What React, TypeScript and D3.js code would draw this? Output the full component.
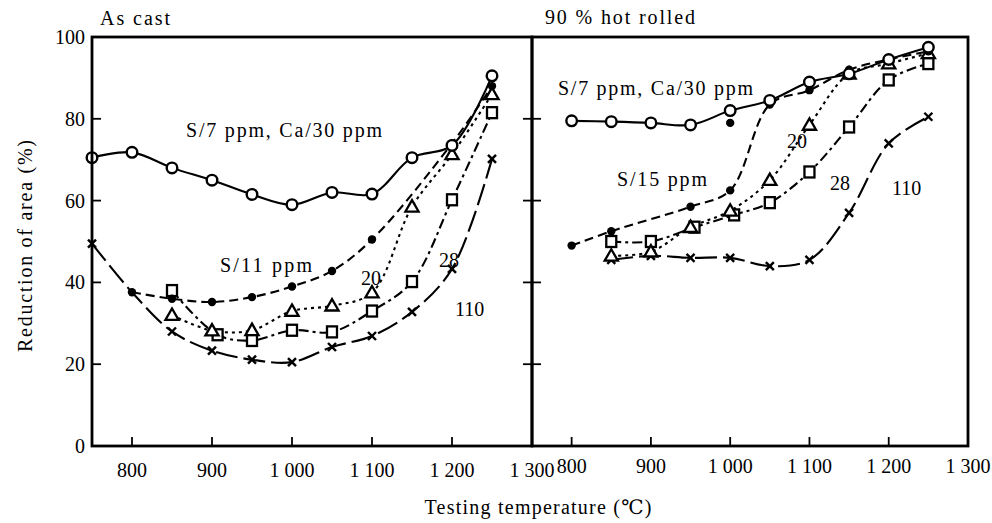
import React from "react";
import * as d3 from "d3";

type Pt = [number, number];

// ---- As cast ----
const castS7Ca30: Pt[] = [
  [750, 70.5], [800, 71.8], [850, 68], [900, 65], [950, 61.5], [1000, 59],
  [1050, 62], [1100, 61.6], [1150, 70.5], [1200, 73.5], [1250, 90.5],
];
const castS11: Pt[] = [
  [800, 37.6], [850, 36], [900, 35.2], [950, 36.4], [1000, 39], [1050, 42.8],
  [1100, 50.5], [1200, 74], [1250, 88],
];
const castS20: Pt[] = [
  [850, 32], [900, 28.2], [950, 28.3], [1000, 33], [1050, 34.3], [1100, 37.5],
  [1150, 58.5], [1200, 71.3], [1250, 86],
];
const castS28: Pt[] = [
  [850, 38], [907, 27.2], [950, 25.8], [1000, 28.3], [1050, 27.9], [1100, 33],
  [1150, 40.2], [1200, 60.2], [1250, 81.5],
];
const castS110: Pt[] = [
  [750, 49.5], [800, 37.6], [850, 28], [900, 23.3], [950, 21.1], [1000, 20.5],
  [1050, 24.2], [1100, 26.9], [1150, 32.8], [1200, 43.3], [1250, 70.2],
];
// temperatures whose cross sits under the S/11 ppm dot
const castS110Hidden = [800];

// ---- 90 % hot rolled ----
const rolledS7Ca30: Pt[] = [
  [800, 79.5], [850, 79.3], [900, 79], [950, 78.5], [1000, 82], [1050, 84.5],
  [1100, 89], [1150, 91], [1200, 94.5], [1250, 97.5],
];
const rolledS15: Pt[] = [
  [800, 49], [850, 52.5], [950, 58.5], [1000, 62.5], [1050, 83.5], [1100, 87],
  [1150, 92], [1200, 94.5], [1250, 96.5],
];
const rolledS15Extra: Pt[] = [[1000, 79]];
const rolledS20: Pt[] = [
  [850, 46.5], [900, 47.5], [950, 53.5], [1000, 57.5], [1050, 65], [1100, 78.5],
  [1150, 91], [1200, 93.5], [1250, 96],
];
const rolledS28: Pt[] = [
  [850, 50], [900, 50], [955, 53.5], [1005, 56.5], [1050, 59.5], [1100, 67],
  [1150, 78], [1200, 89.5], [1250, 93.5],
];
const rolledS110: Pt[] = [
  [850, 45.5], [900, 46.5], [950, 46], [1000, 46], [1050, 44], [1100, 45.5],
  [1150, 57], [1200, 74], [1250, 80.5],
];

const xTicks = [800, 900, 1000, 1100, 1200, 1300];
const xTickLabels = ["800", "900", "1 000", "1 100", "1 200", "1 300"];
const yTicks = [0, 20, 40, 60, 80, 100];
const yTickLabels = ["0", "20", "40", "60", "80", "100"];

type Marker = "open" | "filled" | "triangle" | "square" | "cross";

interface Series {
  data: Pt[];
  marker: Marker;
  dash: string | undefined;
  hidden?: number[];
  extra?: Pt[];
}

const FONT = "'Liberation Serif', 'DejaVu Serif', serif";
const Y0 = 446;
const Y1 = 37;

const y = d3.scaleLinear().domain([0, 100]).range([Y0, Y1]);
const xLeft = d3.scaleLinear().domain([750, 1300]).range([92, 532]);
const xRight = d3.scaleLinear().domain([750, 1300]).range([532, 968]);

const castSeries: Series[] = [
  { data: castS110, marker: "cross", dash: "22,6", hidden: castS110Hidden },
  { data: castS28, marker: "square", dash: "10,4,3,4" },
  { data: castS20, marker: "triangle", dash: "3,4" },
  { data: castS11, marker: "filled", dash: "9,5" },
  { data: castS7Ca30, marker: "open", dash: undefined },
];

const rolledSeries: Series[] = [
  { data: rolledS110, marker: "cross", dash: "22,6" },
  { data: rolledS28, marker: "square", dash: "10,4,3,4" },
  { data: rolledS20, marker: "triangle", dash: "3,4" },
  { data: rolledS15, marker: "filled", dash: "9,5", extra: rolledS15Extra },
  { data: rolledS7Ca30, marker: "open", dash: undefined },
];

const triPath = d3.symbol(d3.symbolTriangle, 75)() as string;

function MarkerShape({ kind, cx, cy }: { kind: Marker; cx: number; cy: number }) {
  switch (kind) {
    case "open":
      return <circle cx={cx} cy={cy} r={5.3} fill="#fff" stroke="#000" strokeWidth={2.4} />;
    case "filled":
      return <circle cx={cx} cy={cy} r={4.2} fill="#000" />;
    case "triangle":
      return (
        <path d={triPath} transform={`translate(${cx},${cy + 1})`} fill="#fff" stroke="#000" strokeWidth={2.3} />
      );
    case "square":
      return <rect x={cx - 5} y={cy - 5.5} width={10} height={11} fill="#fff" stroke="#000" strokeWidth={2.3} />;
    case "cross":
      return (
        <g stroke="#000" strokeWidth={2.4}>
          <line x1={cx - 4} y1={cy - 4} x2={cx + 4} y2={cy + 4} />
          <line x1={cx - 4} y1={cy + 4} x2={cx + 4} y2={cy - 4} />
        </g>
      );
  }
}

function Curves({ series, x }: { series: Series[]; x: d3.ScaleLinear<number, number> }) {
  const line = d3
    .line<Pt>()
    .x((d) => x(d[0]))
    .y((d) => y(d[1]))
    .curve(d3.curveCatmullRom.alpha(0.5));
  return (
    <g>
      {series.map((s, i) => (
        <path
          key={"l" + i}
          d={line(s.data) as string}
          fill="none"
          stroke="#000"
          strokeWidth={2.1}
          strokeDasharray={s.dash}
        />
      ))}
      {series.map((s, i) => (
        <g key={"m" + i}>
          {s.data
            .filter((d) => !(s.hidden || []).includes(d[0]))
            .concat(s.extra || [])
            .map((d, j) => (
              <MarkerShape key={j} kind={s.marker} cx={x(d[0])} cy={y(d[1])} />
            ))}
        </g>
      ))}
    </g>
  );
}

function XAxis({ x, labelY }: { x: d3.ScaleLinear<number, number>; labelY: number }) {
  return (
    <g>
      {xTicks.map((t, i) => (
        <g key={t}>
          {t < 1300 && <line x1={x(t)} x2={x(t)} y1={Y0} y2={Y0 - 9} stroke="#000" strokeWidth={1.8} />}
          <text x={x(t)} y={labelY} textAnchor="middle" fontSize={20} fontFamily={FONT}>
            {xTickLabels[i]}
          </text>
        </g>
      ))}
    </g>
  );
}

export default function App() {
  const left = xLeft.range();
  const right = xRight.range();
  return (
    <svg
      width={992}
      height={523}
      viewBox="0 0 992 523"
      style={{ position: "absolute", left: 0, top: 0, background: "#fff" }}
    >
      <rect x={0} y={0} width={992} height={523} fill="#fff" />

      {/* panel titles */}
      <text x={100} y={25} fontSize={20} fontFamily={FONT} textLength={70} lengthAdjust="spacing">
        As cast
      </text>
      <text x={545} y={24} fontSize={20} fontFamily={FONT} textLength={150} lengthAdjust="spacing">
        90 % hot rolled
      </text>

      {/* curves */}
      <Curves series={castSeries} x={xLeft} />
      <Curves series={rolledSeries} x={xRight} />

      {/* frames */}
      <rect x={left[0]} y={Y1} width={left[1] - left[0]} height={Y0 - Y1} fill="none" stroke="#000" strokeWidth={2.8} />
      <rect x={right[0]} y={Y1} width={right[1] - right[0]} height={Y0 - Y1} fill="none" stroke="#000" strokeWidth={2.8} />

      {/* y ticks: inner side of the left axis and both sides of the divider */}
      {yTicks.map((t, i) => (
        <g key={t}>
          {t > 0 && t < 100 && (
            <>
              <line x1={left[0]} x2={left[0] + 9} y1={y(t)} y2={y(t)} stroke="#000" strokeWidth={1.8} />
              <line x1={left[1] - 9} x2={left[1] + 9} y1={y(t)} y2={y(t)} stroke="#000" strokeWidth={1.8} />
            </>
          )}
          <text x={85} y={y(t) + 7} textAnchor="end" fontSize={20} fontFamily={FONT}>
            {yTickLabels[i]}
          </text>
        </g>
      ))}

      <XAxis x={xLeft} labelY={477} />
      <XAxis x={xRight} labelY={473} />

      {/* series labels, as cast */}
      <text x={186} y={137} fontSize={20} fontFamily={FONT} textLength={196} lengthAdjust="spacing">
        S/7 ppm, Ca/30 ppm
      </text>
      <text x={220} y={272} fontSize={20} fontFamily={FONT} textLength={92} lengthAdjust="spacing">
        S/11 ppm
      </text>
      <text x={361} y={285} fontSize={20} fontFamily={FONT}>20</text>
      <text x={439} y={267} fontSize={20} fontFamily={FONT}>28</text>
      <text x={455} y={316} fontSize={20} fontFamily={FONT}>110</text>

      {/* series labels, hot rolled */}
      <text x={558} y={95} fontSize={20} fontFamily={FONT} textLength={195} lengthAdjust="spacing">
        S/7 ppm, Ca/30 ppm
      </text>
      <text x={787} y={148} fontSize={20} fontFamily={FONT}>20</text>
      <text x={617} y={186} fontSize={20} fontFamily={FONT} textLength={90} lengthAdjust="spacing">
        S/15 ppm
      </text>
      <text x={830} y={190} fontSize={20} fontFamily={FONT}>28</text>
      <text x={892} y={195} fontSize={20} fontFamily={FONT}>110</text>

      {/* axis titles */}
      <text
        x={538}
        y={514}
        textAnchor="middle"
        fontSize={20}
        fontFamily={FONT}
        textLength={227}
        lengthAdjust="spacing"
      >
        Testing temperature (℃)
      </text>
      <text
        transform="translate(32,246) rotate(-90)"
        textAnchor="middle"
        fontSize={20}
        fontFamily={FONT}
        textLength={212}
        lengthAdjust="spacing"
      >
        Reduction of area (%)
      </text>
    </svg>
  );
}
